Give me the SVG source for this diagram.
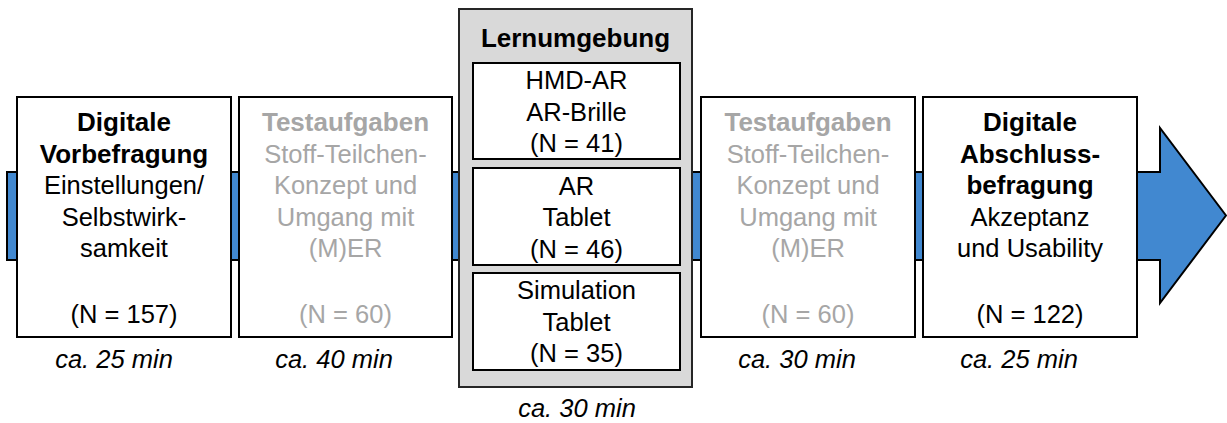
<svg xmlns="http://www.w3.org/2000/svg" width="1227" height="423" viewBox="0 0 1227 423">
<style>
text{font-family:"Liberation Sans",Arial,sans-serif;font-size:25.5px;text-anchor:middle;fill:#000}
.b{font-weight:bold;font-size:26px}
.g{fill:#a6a6a6}
.t{font-style:italic}
.box{fill:#fff;stroke:#000;stroke-width:2}
.grp{fill:#d9d9d9;stroke:#262626;stroke-width:2}
.arrow{fill:#4188d0;stroke:#000;stroke-width:2;stroke-linejoin:miter}
</style>
<g id="connectors">
<polygon class="arrow" points="7,172 1160,172 1160,128 1226,215.5 1160,303 1160,260 7,260"/>
</g>
<g id="node-vorbefragung">
<rect class="box" x="17" y="97" width="214" height="240"/>
<text class="b" x="124" y="131">Digitale</text>
<text class="b" x="124" y="162.5">Vorbefragung</text>
<text x="124" y="194">Einstellungen/</text>
<text x="124" y="225.5">Selbstwirk-</text>
<text x="124" y="257">samkeit</text>
<text x="124" y="323">(N = 157)</text>
<text class="t" x="114" y="368">ca. 25 min</text>
</g>
<g id="node-test1">
<rect class="box" x="239" y="97" width="213" height="240"/>
<text class="b g" x="345.5" y="131">Testaufgaben</text>
<text class="g" x="345.5" y="162.5">Stoff-Teilchen-</text>
<text class="g" x="345.5" y="194">Konzept und</text>
<text class="g" x="345.5" y="225.5">Umgang mit</text>
<text class="g" x="345.5" y="257">(M)ER</text>
<text class="g" x="345.5" y="323">(N = 60)</text>
<text class="t" x="334" y="368">ca. 40 min</text>
</g>
<g id="node-lernumgebung">
<rect class="grp" x="459" y="9" width="233" height="378"/>
<text class="b" x="575.5" y="47">Lernumgebung</text>
<text class="t" x="577" y="417">ca. 30 min</text>
</g>
<g id="node-hmd">
<rect class="box" x="473" y="63" width="207" height="96"/>
<text x="576.5" y="89">HMD-AR</text>
<text x="576.5" y="120.5">AR-Brille</text>
<text x="576.5" y="152">(N = 41)</text>
</g>
<g id="node-ar">
<rect class="box" x="473" y="168" width="207" height="97"/>
<text x="576.5" y="194.5">AR</text>
<text x="576.5" y="226">Tablet</text>
<text x="576.5" y="257.5">(N = 46)</text>
</g>
<g id="node-sim">
<rect class="box" x="473" y="273" width="207" height="97"/>
<text x="576.5" y="299">Simulation</text>
<text x="576.5" y="330.5">Tablet</text>
<text x="576.5" y="362">(N = 35)</text>
</g>
<g id="node-test2">
<rect class="box" x="701" y="97" width="214" height="240"/>
<text class="b g" x="808" y="131">Testaufgaben</text>
<text class="g" x="808" y="162.5">Stoff-Teilchen-</text>
<text class="g" x="808" y="194">Konzept und</text>
<text class="g" x="808" y="225.5">Umgang mit</text>
<text class="g" x="808" y="257">(M)ER</text>
<text class="g" x="808" y="323">(N = 60)</text>
<text class="t" x="797" y="368">ca. 30 min</text>
</g>
<g id="node-abschluss">
<rect class="box" x="923" y="97" width="214" height="240"/>
<text class="b" x="1030" y="131">Digitale</text>
<text class="b" x="1030" y="162.5">Abschluss-</text>
<text class="b" x="1030" y="194">befragung</text>
<text x="1030" y="225.5">Akzeptanz</text>
<text x="1030" y="257">und Usability</text>
<text x="1030" y="323">(N = 122)</text>
<text class="t" x="1019" y="368">ca. 25 min</text>
</g>
</svg>
